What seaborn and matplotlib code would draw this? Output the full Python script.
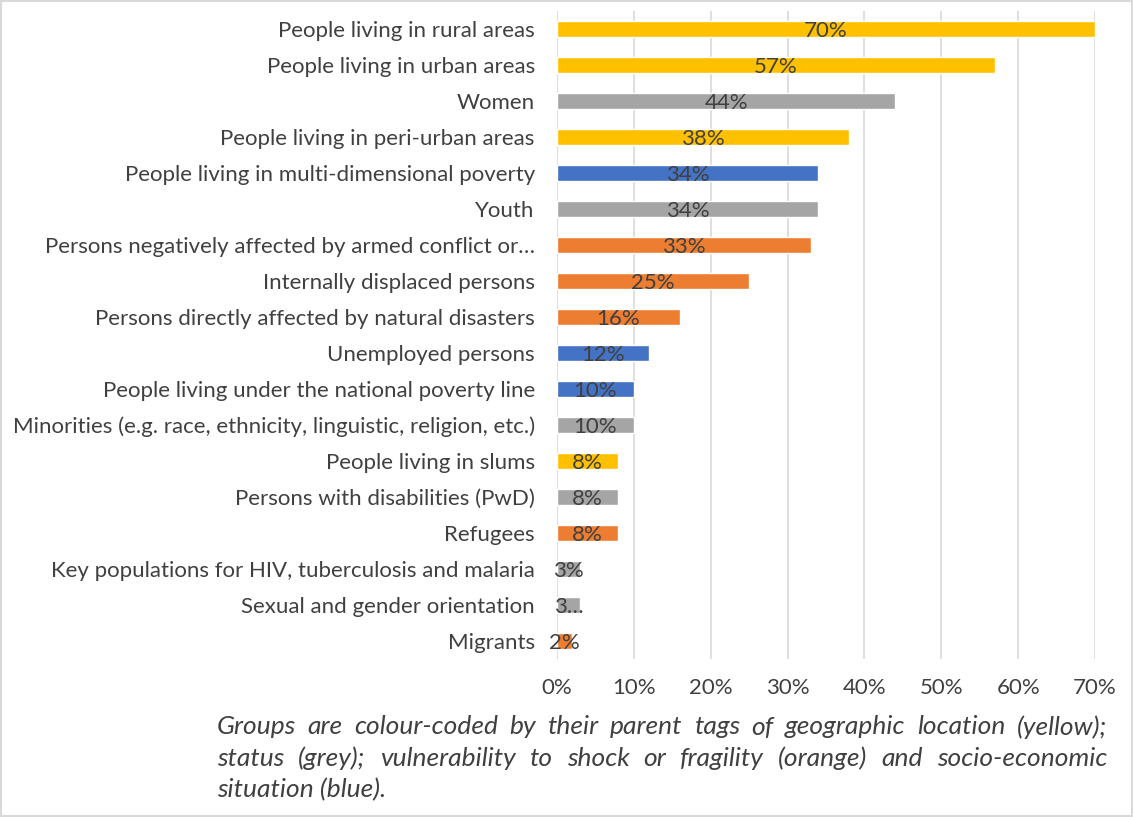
import matplotlib
matplotlib.use("Agg")
import matplotlib.pyplot as plt
import seaborn as sns
import pandas as pd
from matplotlib.patches import Rectangle

groups = [
    "People living in rural areas",
    "People living in urban areas",
    "Women",
    "People living in peri-urban areas",
    "People living in multi-dimensional poverty",
    "Youth",
    "Persons negatively affected by armed conflict or…",
    "Internally displaced persons",
    "Persons directly affected by natural disasters",
    "Unemployed persons",
    "People living under the national poverty line",
    "Minorities (e.g. race, ethnicity, linguistic, religion, etc.)",
    "People living in slums",
    "Persons with disabilities (PwD)",
    "Refugees",
    "Key populations for HIV, tuberculosis and malaria",
    "Sexual and gender orientation",
    "Migrants",
]
shares = [70, 57, 44, 38, 34, 34, 33, 25, 16, 12, 10, 10, 8, 8, 8, 3, 3, 2]
tags = ["location", "location", "status", "location", "socio", "status", "shock",
        "shock", "shock", "socio", "socio", "status", "location", "status",
        "shock", "status", "status", "shock"]
bar_labels = ["70%", "57%", "44%", "38%", "34%", "34%", "33%", "25%", "16%", "12%",
              "10%", "10%", "8%", "8%", "8%", "3%", "3…", "2%"]
tag_colors = {"location": "#FFC000", "status": "#A5A5A5",
              "shock": "#ED7D31", "socio": "#4472C4"}
ticks = [0, 10, 20, 30, 40, 50, 60, 70]
caption_lines = [
    "Groups are colour-coded by their parent tags of geographic location (yellow);",
    "status (grey); vulnerability to shock or fragility (orange) and socio-economic",
    "situation (blue).",
]

df = pd.DataFrame({"group": groups, "share": shares, "tag": tags})

sns.set_style("white")
plt.rcParams["font.family"] = ["Lato", "DejaVu Sans"]
txt = "#404040"
fs = 16

fig = plt.figure(figsize=(11.33, 8.17), dpi=100)
ax = fig.add_axes([0.4916, 0.1934, 0.4749, 0.7931])

sns.barplot(data=df, y="group", x="share", hue="tag", palette=tag_colors,
            dodge=False, width=0.42, legend=False, ax=ax, saturation=1)

for i, (v, lab) in enumerate(zip(shares, bar_labels)):
    ax.text(v / 2, i + 0.05, lab, ha="center", va="center", fontsize=fs, color=txt)

ax.set_xlim(0, 70)
ax.set_ylim(len(groups) - 0.5, -0.5)
ax.set_xticks(ticks)
ax.set_xticklabels([f"{t}%" for t in ticks], fontsize=fs, color=txt)
ax.tick_params(axis="y", labelsize=fs, labelcolor=txt, length=0, pad=16)
ax.tick_params(axis="x", length=0, pad=14)
ax.set_xlabel("")
ax.set_ylabel("")
ax.grid(axis="x", color="#D9D9D9", linewidth=1.2)
ax.set_axisbelow(True)
for s in ax.spines.values():
    s.set_visible(False)

# caption, justified by hand
fig.canvas.draw()
renderer = fig.canvas.get_renderer()
left_px, right_px = 217, 1107
line_y = [727, 758, 790]
cfs = 19

def width_of(s):
    t = fig.text(0, 0, s, fontsize=cfs, style="italic", color=txt)
    w = t.get_window_extent(renderer).width
    t.remove()
    return w

for li, line in enumerate(caption_lines):
    y = 1 - line_y[li] / 817
    ws = line.split(" ")
    if li == len(caption_lines) - 1:
        fig.text(left_px / 1133, y, line, fontsize=cfs, style="italic",
                 color=txt, va="center")
        continue
    widths = [width_of(w) for w in ws]
    gap = (right_px - left_px - sum(widths)) / (len(ws) - 1)
    x = left_px
    for w, wd in zip(ws, widths):
        fig.text(x / 1133, y, w, fontsize=cfs, style="italic", color=txt, va="center")
        x += wd + gap

fig.patches.append(Rectangle((0.001, 0.001), 0.998, 0.998, transform=fig.transFigure,
                             fill=False, edgecolor="#D9D9D9", linewidth=1.5))

fig.savefig("out.png", dpi=100)
